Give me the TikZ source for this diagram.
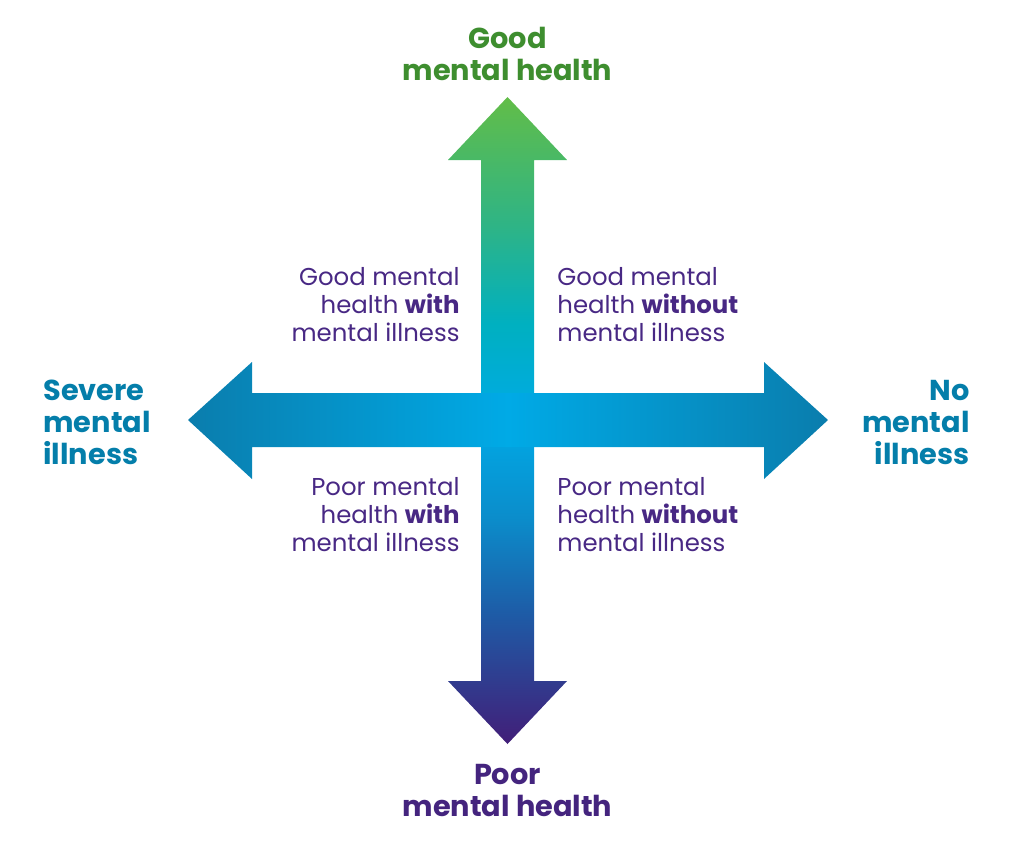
\documentclass[tikz,border=0pt]{standalone}
\usepackage{fontspec}
\setmainfont{Poppins}
\definecolor{gmh}{RGB}{62,142,47}
\definecolor{nmi}{RGB}{4,126,170}
\definecolor{pmh}{RGB}{68,36,126}
\definecolor{quad}{RGB}{72,40,132}
% colours of the arrows
\definecolor{c0}{RGB}{66,30,120}
\definecolor{c1}{RGB}{30,91,166}
\definecolor{c2}{RGB}{11,141,203}
\definecolor{c3}{RGB}{0,170,230}
\definecolor{c4}{RGB}{0,176,192}
\definecolor{c5}{RGB}{46,180,134}
\definecolor{c6}{RGB}{98,189,72}
\definecolor{h0}{RGB}{10,125,173}
\pgfdeclareverticalshading{vgrad}{100bp}{color(0bp)=(c0); color(25bp)=(c0); color(35bp)=(c1); color(42.5bp)=(c2); color(50bp)=(c3); color(57.5bp)=(c4); color(65bp)=(c5); color(75bp)=(c6); color(100bp)=(c6)}
\pgfdeclarehorizontalshading{hgrad}{100bp}{color(0bp)=(h0); color(25bp)=(h0); color(50bp)=(c3); color(75bp)=(h0); color(100bp)=(h0)}
\tikzset{
  quadtext/.style={text=quad, inner sep=0pt, font=\fontsize{12.2}{14}\selectfont},
  axistext/.style={inner sep=0pt, font=\fontsize{14.4}{16}\selectfont\bfseries}
}

\begin{document}
\begin{tikzpicture}[x=0.5pt, y=-0.5pt]
\useasboundingbox (0,0) rectangle (1024,853);
\shade[shading=vgrad] (507.5,97) -- (567,160) -- (534,160) -- (534,681) -- (567,681) -- (507.5,744)
  -- (448,681) -- (481,681) -- (481,160) -- (448,160) -- cycle;
\shade[shading=hgrad] (188,420) -- (252,362) -- (252,393) -- (764,393) -- (764,362) -- (828,420)
  -- (764,479) -- (764,447) -- (252,447) -- (252,479) -- cycle;
\node[axistext, text=gmh, align=center, anchor=north] (good) at (507.5,27) {Good\\mental health};
\node[axistext, text=pmh, align=center, anchor=north] (poor) at (507.5,764) {Poor\\mental health};
\node[axistext, text=nmi, align=left, anchor=north west] (severe) at (43,380) {Severe\\mental\\illness};
\node[axistext, text=nmi, align=right, anchor=north east] (none) at (970,380) {No\\mental\\illness};
\node[quadtext, align=right, anchor=north east] (gw) at (460,267) {Good mental\\health \textbf{with}\\mental illness};
\node[quadtext, align=left, anchor=north west] (gwo) at (557,267) {Good mental\\health \textbf{without}\\mental illness};
\node[quadtext, align=right, anchor=north east] (pw) at (460,477) {Poor mental\\health \textbf{with}\\mental illness};
\node[quadtext, align=left, anchor=north west] (pwo) at (557,477) {Poor mental\\health \textbf{without}\\mental illness};
\end{tikzpicture}
\end{document}
